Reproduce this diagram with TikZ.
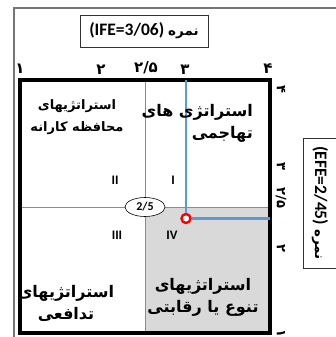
\documentclass[tikz,border=0pt]{standalone}
\usepackage{fontspec}
\usetikzlibrary{shapes.geometric}
\setmainfont{Carlito}
\newfontfamily\fa[Script=Arabic]{DejaVu Sans}
\TeXXeTstate=1
\newcommand\rtltext[1]{{\fa\beginR #1\endR}}
\definecolor{frameGray}{RGB}{118,118,118}
\definecolor{quadFill}{RGB}{217,217,217}
\definecolor{lineBlue}{RGB}{91,155,213}
\definecolor{divGray}{RGB}{140,140,140}
\begin{document}
\begin{tikzpicture}[x=1pt,y=-1pt,
  divider/.style={divGray, line width=0.9pt},
  quadtext/.style={font=\fa\bfseries\fontsize{16}{22}\selectfont, align=center, inner sep=0pt},
  roman/.style={font=\bfseries\fontsize{13}{15}\selectfont, inner sep=0pt},
  tick/.style={font=\fa\bfseries\fontsize{15}{17}\selectfont, inner sep=0pt},
  rtick/.style={tick, font=\fa\bfseries\fontsize{13}{15}\selectfont, rotate=-90},
  labelbox/.style={draw=black!80, line width=0.6pt, fill=white, inner sep=0pt,
    font=\bfseries\fontsize{17.5}{20}\selectfont}]
\useasboundingbox (0,0) rectangle (336,337);
% page frame
\draw[frameGray, line width=1.6pt] (14,345) -- (14,8) -- (345,8);
% shaded quadrant IV
\fill[quadFill] (145,207) rectangle (270,333);
% quadrant dividers
\coordinate (vTop) at (145,80);
\coordinate (vBot) at (145,333);
\coordinate (hLeft) at (20,207);
\coordinate (hRight) at (270,207);
\draw[divider] (vTop) -- (vBot);
\draw[divider] (hLeft) -- (hRight);
% main square
\draw[line width=3.2pt] (20,80) rectangle (270,333);
% score lines
\coordinate (ifeTop) at (186,80);
\coordinate (efeRight) at (270,218.5);
\node[circle, draw=red, fill=white, line width=2.4pt, minimum size=9pt, inner sep=0pt] (pt) at (186,218.5) {};
\draw[lineBlue, line width=2.5pt] (ifeTop) -- (pt.north);
\draw[lineBlue, line width=2.5pt] (pt.east) -- (efeRight);
% centre ellipse
\node[ellipse, draw, fill=white, line width=0.6pt, minimum width=40pt, minimum height=19pt, inner sep=0pt,
  font=\bfseries\fontsize{12}{14}\selectfont] (mid) at (145,207) {2/5};
% title boxes
\node[labelbox, minimum width=128pt, minimum height=32pt] (ife) at (144,31)
  {(IFE=3/06) {\fontsize{13.5}{15}\selectfont\rtltext{نمره}}};
\node[labelbox, rotate=-90, minimum width=130pt, minimum height=34pt] (efe) at (320,203)
  {(EFE=2/45) {\fontsize{13.5}{15}\selectfont\rtltext{نمره}}};
% top axis
\node[tick] (t1) at (20,69) {۱};
\node[tick] (t2) at (101,70) {۲};
\node[tick] (t25) at (146,68) {۲/۵};
\node[tick] (t3) at (185,70) {۳};
\node[tick] (t4) at (268,69) {۴};
% right axis
\node[rtick] (r4) at (281,89) {۴};
\node[rtick] (r3) at (281,166) {۳};
\node[rtick] (r25) at (281,198) {۲/۵};
\node[rtick] (r2) at (281,248) {۲};
\node[rtick] (r1) at (281,333) {۱};
% quadrant numerals
\node[roman] (q2) at (115,180) {II};
\node[roman] (q1) at (173,180) {I};
\node[roman] (q3) at (117,235) {III};
\node[roman] (q4) at (172,235) {IV};
% quadrant titles
\node[quadtext, font=\fa\bfseries\fontsize{13}{22}\selectfont] (conserv) at (77,117)
  {\rtltext{استراتژیهای}\\\rtltext{محافظه کارانه}};
\node[quadtext, align=right, anchor=east] (aggr) at (253,123)
  {\rtltext{استراتژی های}\\\rtltext{تهاجمی}};
\node[quadtext] (defen) at (66,303)
  {\rtltext{استراتژیهای}\\\rtltext{تدافعی}};
\node[quadtext] (compet) at (203,297)
  {\rtltext{استراتژیهای}\\\rtltext{تنوع یا رقابتی}};
\end{tikzpicture}
\end{document}
